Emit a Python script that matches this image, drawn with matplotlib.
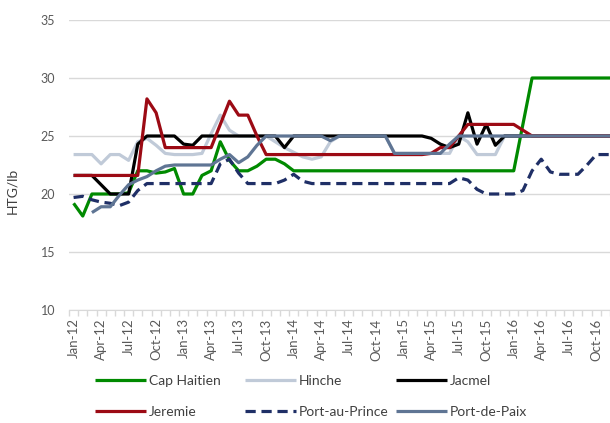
import matplotlib
matplotlib.use('Agg')
import matplotlib.pyplot as plt
import numpy as np

plt.rcParams['font.family'] = ['Lato', 'DejaVu Sans']

# monthly prices, Jan-12 .. Dec-16 (HTG/lb)
cap_haitien = [19.2, 18.1, 20.0, 20.0, 20.0, 20.0, 20.1, 22.0, 22.0, 21.8, 21.9, 22.2,
               20.0, 20.0, 21.6, 22.0, 24.5, 22.9, 22.0, 22.0, 22.4, 23.0, 23.0, 22.6,
               22.0, 22.0, 22.0, 22.0, 22.0, 22.0, 22.0, 22.0, 22.0, 22.0, 22.0, 22.0,
               22.0, 22.0, 22.0, 22.0, 22.0, 22.0, 22.0, 22.0, 22.0, 22.0, 22.0, 22.0,
               22.0, 26.0, 30.0, 30.0, 30.0, 30.0, 30.0, 30.0, 30.0, 30.0, 30.0, 30.0]
hinche = [23.4, 23.4, 23.4, 22.6, 23.4, 23.4, 22.9, 24.5, 24.8, 24.2, 23.5, 23.4,
          23.4, 23.4, 23.5, 25.2, 26.8, 25.5, 25.0, 25.0, 25.0, 25.0, 24.5, 24.0,
          23.6, 23.2, 23.0, 23.2, 24.5, 25.0, 25.0, 25.0, 25.0, 25.0, 25.0, 23.5,
          23.5, 23.5, 23.5, 23.5, 23.5, 23.5, 25.0, 24.5, 23.4, 23.4, 23.4, 25.0,
          25.0, 25.0, 25.0, 25.0, 25.0, 25.0, 25.0, 25.0, 25.0, 25.0, 25.0, 25.0]
jacmel = [21.6, 21.6, 21.6, 20.8, 20.0, 20.0, 20.0, 24.3, 25.0, 25.0, 25.0, 25.0,
          24.3, 24.2, 25.0, 25.0, 25.0, 25.0, 25.0, 25.0, 25.0, 25.0, 25.0, 24.0,
          25.0, 25.0, 25.0, 25.0, 25.0, 25.0, 25.0, 25.0, 25.0, 25.0, 25.0, 25.0,
          25.0, 25.0, 25.0, 24.8, 24.3, 24.0, 24.3, 27.0, 24.3, 26.0, 24.2, 25.0,
          25.0, 25.0, 25.0, 25.0, 25.0, 25.0, 25.0, 25.0, 25.0, 25.0, 25.0, 25.0]
jeremie = [21.6, 21.6, 21.6, 21.6, 21.6, 21.6, 21.6, 21.6, 28.2, 27.0, 24.0, 24.0,
           24.0, 24.0, 24.0, 24.0, 26.0, 28.0, 26.8, 26.8, 25.0, 23.4, 23.4, 23.4,
           23.4, 23.4, 23.4, 23.4, 23.4, 23.4, 23.4, 23.4, 23.4, 23.4, 23.4, 23.4,
           23.4, 23.4, 23.4, 23.5, 24.0, 24.0, 25.0, 26.0, 26.0, 26.0, 26.0, 26.0,
           26.0, 25.5, 25.0, 25.0, 25.0, 25.0, 25.0, 25.0, 25.0, 25.0, 25.0, 25.0]
port_au_prince = [19.7, 19.8, 19.5, 19.3, 19.2, 19.0, 19.3, 20.3, 20.9, 20.9, 20.9, 20.9,
                  20.9, 20.9, 20.9, 20.9, 22.6, 23.0, 21.8, 20.9, 20.9, 20.9, 20.9, 21.2,
                  21.7, 21.1, 20.9, 20.9, 20.9, 20.9, 20.9, 20.9, 20.9, 20.9, 20.9, 20.9,
                  20.9, 20.9, 20.9, 20.9, 20.9, 20.9, 21.4, 21.2, 20.4, 20.0, 20.0, 20.0,
                  20.0, 20.3, 22.0, 23.0, 21.9, 21.7, 21.7, 21.7, 22.5, 23.4, 23.4, 23.4]
port_de_paix = [np.nan, np.nan, 18.4, 18.9, 18.9, 19.9, 20.8, 21.2, 21.5, 22.0, 22.4, 22.5,
                22.5, 22.5, 22.5, 22.5, 23.0, 23.4, 22.7, 23.2, 24.2, 25.0, 25.0, 25.0,
                25.0, 25.0, 25.0, 25.0, 24.6, 25.0, 25.0, 25.0, 25.0, 25.0, 25.0, 23.5,
                23.5, 23.5, 23.5, 23.5, 23.5, 24.3, 25.0, 25.0, 25.0, 25.0, 25.0, 25.0,
                25.0, 25.0, 25.0, 25.0, 25.0, 25.0, 25.0, 25.0, 25.0, 25.0, 25.0, 25.0]

tick_labels = ['Jan-12', 'Apr-12', 'Jul-12', 'Oct-12', 'Jan-13', 'Apr-13', 'Jul-13',
               'Oct-13', 'Jan-14', 'Apr-14', 'Jul-14', 'Oct-14', 'Jan-15', 'Apr-15',
               'Jul-15', 'Oct-15', 'Jan-16', 'Apr-16', 'Jul-16', 'Oct-16']

series = [
  ('Cap Haitien', cap_haitien, '#008A00', '-'),
  ('Hinche', hinche, '#C0CAD8', '-'),
  ('Jacmel', jacmel, '#000000', '-'),
  ('Jeremie', jeremie, '#9C0A14', '-'),
  ('Port-au-Prince', port_au_prince, '#1F2F66', (0, (3.2, 1.8))),
  ('Port-de-Paix', port_de_paix, '#5F7594', '-'),
]

fig = plt.figure(figsize=(6.10, 4.23), dpi=100)
ax = fig.add_axes([69 / 610, 1 - 310 / 423, 1 - 69 / 610, 290 / 423])

x = np.arange(len(cap_haitien))
lines = []
for name, vals, col, ls in series:
  l, = ax.plot(x, vals, color=col, lw=2.3, linestyle=ls, label=name,
               solid_joinstyle='round', solid_capstyle='butt')
  lines.append(l)

ax.set_ylim(10, 35)
ax.set_xlim(-0.5, 58.5)
ax.set_yticks(range(10, 36, 5))
ax.yaxis.grid(True, color='#D9D9D9', lw=1)
ax.set_axisbelow(True)
for s in ['top', 'right', 'left']:
  ax.spines[s].set_visible(False)
ax.spines['bottom'].set_color('#D9D9D9')
ax.tick_params(axis='y', length=0, labelsize=9, labelcolor='#595959', pad=10)

ax.set_xticks(np.arange(0, 58, 3))
ax.set_xticklabels(tick_labels, rotation=90)
ax.set_xticks(np.arange(-0.5, 59, 1), minor=True)
ax.tick_params(axis='x', which='major', length=0, labelsize=9.5, labelcolor='#595959', pad=6)
ax.tick_params(axis='x', which='minor', length=4, color='#D9D9D9', width=1)

ax.set_ylabel('HTG/lb', fontsize=10, color='#404040')
ax.yaxis.set_label_coords(-0.094, 0.41)

# three legend columns at fixed x, like the original
col_x = [95 / 610, 245 / 610, 396 / 610]
for k in range(3):
  leg = fig.legend([lines[k], lines[k + 3]], [series[k][0], series[k + 3][0]],
                   loc='upper left', bbox_to_anchor=(col_x[k], 1 - 375 / 423),
                   bbox_transform=fig.transFigure, frameon=False, fontsize=10,
                   handlelength=3.7, handletextpad=0.2, labelspacing=1.35,
                   borderpad=0, borderaxespad=0)
  for t in leg.get_texts():
    t.set_color('#404040')

plt.savefig('out.png', dpi=100)
